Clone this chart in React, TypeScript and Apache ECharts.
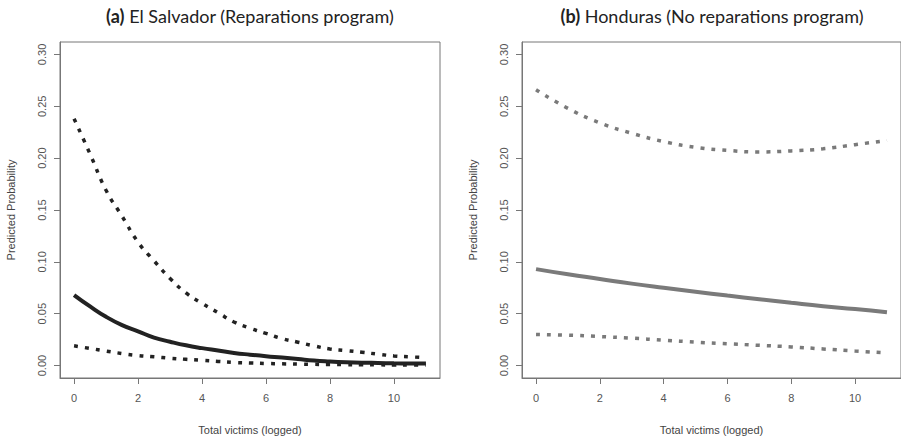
import React, { useEffect, useRef } from "react";
import * as echarts from "echarts";

// ---- data ----
const xLeft = [0, 0.5, 1, 1.5, 2, 2.5, 3, 3.5, 4, 4.5, 5, 5.5, 6, 6.5, 7, 7.5, 8, 8.5, 9, 9.5, 10, 10.5, 11];
const leftUpper = [0.238, 0.204, 0.169, 0.144, 0.119, 0.101, 0.084, 0.070, 0.060, 0.051, 0.042, 0.036, 0.031, 0.026, 0.0225, 0.019, 0.016, 0.0145, 0.0128, 0.011, 0.0093, 0.0084, 0.0076];
const leftSolid = [0.068, 0.057, 0.047, 0.039, 0.033, 0.027, 0.023, 0.0195, 0.0168, 0.0145, 0.0122, 0.0105, 0.009, 0.0077, 0.0063, 0.0049, 0.004, 0.0033, 0.0028, 0.0025, 0.0022, 0.002, 0.0019];
const leftLower = [0.019, 0.0165, 0.014, 0.0116, 0.0097, 0.0085, 0.0071, 0.006, 0.005, 0.004, 0.003, 0.0025, 0.002, 0.0017, 0.0014, 0.0012, 0.001, 0.0009, 0.0008, 0.0007, 0.0006, 0.0006, 0.0005];

const xRight = [0, 1, 2, 3, 4, 5, 6, 7, 8, 9, 10, 11];
const rightUpper = [0.266, 0.248, 0.234, 0.224, 0.216, 0.2105, 0.2075, 0.206, 0.207, 0.209, 0.213, 0.217];
const rightSolid = [0.093, 0.088, 0.0835, 0.079, 0.075, 0.0712, 0.0675, 0.064, 0.0605, 0.0572, 0.0545, 0.0513];
const rightLower = [0.030, 0.0293, 0.028, 0.0264, 0.0245, 0.0226, 0.021, 0.0195, 0.018, 0.016, 0.014, 0.0122];

const xTicks = [0, 2, 4, 6, 8, 10];
const yTicks = [0, 0.05, 0.1, 0.15, 0.2, 0.25, 0.3];
const titles = ["(a)", " El Salvador (Reparations program)", "(b)", " Honduras (No reparations program)"];
const xName = "Total victims (logged)";
const yName = "Predicted Probability";

const pairs = (xs: number[], ys: number[]) => xs.map((x, i) => [x, ys[i]]);

export default function App() {
  const ref = useRef<HTMLDivElement>(null);
  useEffect(() => {
    if (!ref.current) return;
    const chart = echarts.init(ref.current, null, { renderer: "svg" });
    const axisFont = { fontFamily: "Liberation Sans", fontSize: 11, color: "#555" };
    const mkX = (gi: number) => ({
      type: "value",
      gridIndex: gi,
      position: "bottom",
      min: -0.44,
      max: 11.44,
      axisLine: { show: true, onZero: false, lineStyle: { color: "#777", width: 1 } },
      splitLine: { show: false },
      axisTick: { show: true, inside: false, length: 6, customValues: xTicks, lineStyle: { color: "#777" } },
      axisLabel: { ...axisFont, inside: false, margin: 14, customValues: xTicks, formatter: (v: number) => String(v) },
      name: xName,
      nameLocation: "middle",
      nameGap: 46,
      nameTextStyle: { fontFamily: "Liberation Sans", fontSize: 11, color: "#444" },
    });
    const mkY = (gi: number) => ({
      type: "value",
      gridIndex: gi,
      position: "left",
      min: -0.012,
      max: 0.312,
      axisLine: { show: true, onZero: false, lineStyle: { color: "#777", width: 1 } },
      splitLine: { show: false },
      axisTick: { show: true, inside: false, length: 6, customValues: yTicks, lineStyle: { color: "#777" } },
      axisLabel: { ...axisFont, inside: false, rotate: 90, margin: 13, customValues: yTicks, formatter: (v: number) => v.toFixed(2) },
      name: yName,
      nameLocation: "middle",
      nameGap: 44,
      nameTextStyle: { fontFamily: "Liberation Sans", fontSize: 11, color: "#444" },
    });
    const line = (gi: number, xs: number[], ys: number[], color: string, dashed: boolean, smooth: boolean) => ({
      type: "line",
      xAxisIndex: gi,
      yAxisIndex: gi,
      data: pairs(xs, ys),
      showSymbol: false,
      smooth,
      lineStyle: dashed
        ? { color, width: 3.5, type: [4, 7], cap: "butt" }
        : { color, width: 4 },
    });
    const dark = "#222";
    const gray = "#7a7a7a";
    chart.setOption({
      animation: false,
      backgroundColor: "#fff",
      grid: [
        { left: 60, top: 42, width: 380, height: 339, show: true, borderColor: "#777", borderWidth: 1, containLabel: false },
        { left: 522, top: 42, width: 380, height: 339, show: true, borderColor: "#777", borderWidth: 1, containLabel: false },
      ],
      xAxis: [mkX(0), mkX(1)],
      yAxis: [mkY(0), mkY(1)],
      series: [
        line(0, xLeft, leftUpper, dark, true, true),
        line(0, xLeft, leftSolid, dark, false, true),
        line(0, xLeft, leftLower, dark, true, true),
        line(1, xRight, rightUpper, gray, true, true),
        line(1, xRight, rightSolid, gray, false, true),
        line(1, xRight, rightLower, gray, true, true),
      ],
      graphic: [
        {
          type: "text",
          x: 250,
          y: 16,
          style: {
            text: `{b|${titles[0]}}${titles[1]}`,
            fontFamily: "Lato",
            fontSize: 18,
            fill: "#222",
            align: "center",
            verticalAlign: "middle",
            rich: { b: { fontWeight: "bold", fontFamily: "Lato", fontSize: 18, fill: "#222" } },
          },
        },
        {
          type: "text",
          x: 712,
          y: 16,
          style: {
            text: `{b|${titles[2]}}${titles[3]}`,
            fontFamily: "Lato",
            fontSize: 18,
            fill: "#222",
            align: "center",
            verticalAlign: "middle",
            rich: { b: { fontWeight: "bold", fontFamily: "Lato", fontSize: 18, fill: "#222" } },
          },
        },
      ],
    });
    return () => chart.dispose();
  }, []);
  return (
    <div
      ref={ref}
      style={{ position: "absolute", left: 0, top: 0, width: 901, height: 440, overflow: "hidden" }}
    />
  );
}
